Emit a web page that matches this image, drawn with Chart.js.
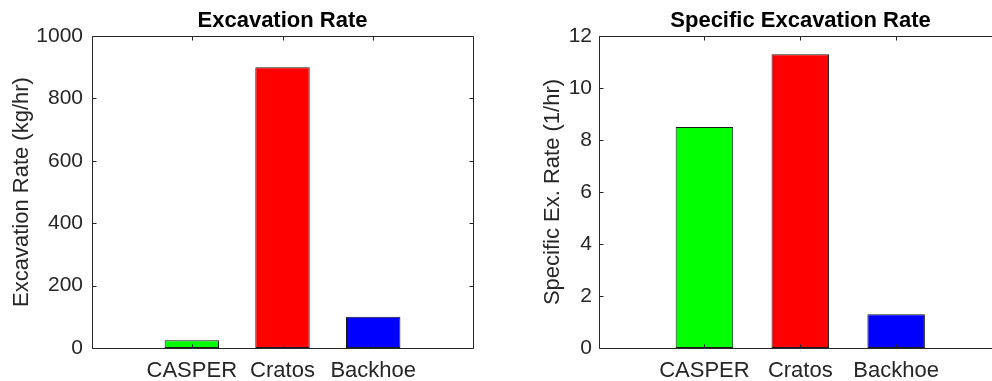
<!DOCTYPE html>
<html>
<head>
    <title>Excavation Rate</title>
    <script src="https://cdn.jsdelivr.net/npm/chart.js"></script>
    <style>
        html, body { margin: 0; padding: 0; background: #fff; overflow: hidden; width: 992px; height: 381px; }
        .panel { position: absolute; top: 0; width: 496px; height: 381px; overflow: hidden; }
    </style>
</head>
<body>
    <div class="panel" style="left:0px"><canvas id="rate" width="496" height="381"></canvas></div>
    <div class="panel" style="left:496px"><canvas id="specific" width="496" height="381"></canvas></div>
    <script>
        const categories = ['CASPER', 'Cratos', 'Backhoe'];
        const excavationRate = [25, 900, 100];      // kg/hr
        const specificRate = [8.5, 11.3, 1.3];      // 1/hr
        const barColors = ['#00ff00', '#ff0000', '#0000ff'];

        const FONT = '"Liberation Sans", Arial, Helvetica, sans-serif';
        const AXIS = '#262626';

        // MATLAB style box with inward tick marks
        const boxPlugin = {
            id: 'box',
            afterLayout(chart) {
                // the right panel's axes run past the window edge; keep its title centred on the full box
                const ext = chart.options.plugins.box.titleExtend || 0;
                if (ext && chart.titleBlock) {
                    chart.titleBlock.right += ext;
                    chart.titleBlock.width += ext;
                }
            },
            afterDatasetsDraw(chart) {
                const ctx = chart.ctx;
                const a = chart.chartArea;
                const showRight = chart.options.plugins.box.rightEdge !== false;
                const xs = chart.scales.x, ys = chart.scales.y;
                const L = Math.round(a.left) + 0.5, R = Math.round(a.right) + 0.5;
                const T = Math.round(a.top) + 0.5, B = Math.round(a.bottom) + 0.5;
                const far = showRight ? R : R + 20;
                ctx.save();
                ctx.strokeStyle = AXIS;
                ctx.lineWidth = 1;
                ctx.beginPath();
                ctx.moveTo(far, T); ctx.lineTo(L, T); ctx.lineTo(L, B); ctx.lineTo(far, B);
                if (showRight) { ctx.moveTo(R, T); ctx.lineTo(R, B); }
                const len = 4;
                ys.ticks.forEach(t => {
                    const y = Math.round(ys.getPixelForValue(t.value)) + 0.5;
                    ctx.moveTo(L, y); ctx.lineTo(L + len, y);
                    if (showRight) { ctx.moveTo(R, y); ctx.lineTo(R - len, y); }
                });
                xs.ticks.forEach(t => {
                    const x = Math.round(xs.getPixelForValue(t.value)) + 0.5;
                    ctx.moveTo(x, B); ctx.lineTo(x, B - len);
                    ctx.moveTo(x, T); ctx.lineTo(x, T + len);
                });
                ctx.stroke();
                ctx.restore();
            }
        };

        function makeChart(id, values, opts) {
            return new Chart(document.getElementById(id), {
                type: 'bar',
                data: {
                    datasets: [{
                        data: values.map((v, i) => ({ x: i + 1, y: v })),
                        backgroundColor: barColors,
                        borderColor: '#1a1a1a',
                        borderWidth: 1,
                        borderSkipped: false,
                        barPercentage: 0.6,
                        categoryPercentage: 1
                    }]
                },
                options: {
                    responsive: false,
                    animation: false,
                    layout: { padding: { left: 0, top: 0, bottom: 0, right: opts.padRight } },
                    plugins: {
                        legend: { display: false },
                        tooltip: { enabled: false },
                        box: { rightEdge: opts.rightEdge, titleExtend: opts.titleExtend },
                        title: {
                            display: true,
                            text: opts.title,
                            fullSize: false,
                            color: '#000',
                            font: { family: FONT, size: 22, weight: 'bold' },
                            padding: { top: 8, bottom: 1.6 }
                        }
                    },
                    scales: {
                        x: {
                            type: 'linear',
                            min: -0.1,
                            max: opts.xMax,
                            offset: false,
                            grid: { display: false, drawTicks: false },
                            border: { display: false },
                            afterBuildTicks: s => { s.ticks = categories.map((c, i) => ({ value: i + 1 })); },
                            afterFit: s => { s.height = 33; },
                            ticks: {
                                color: AXIS,
                                padding: 10,
                                maxRotation: 0,
                                autoSkip: false,
                                font: { family: FONT, size: 22 },
                                callback: v => categories[v - 1]
                            }
                        },
                        y: {
                            min: 0,
                            max: opts.max,
                            grid: { display: false, drawTicks: false },
                            border: { display: false },
                            afterFit: s => { s.width = opts.yWidth; },
                            ticks: {
                                stepSize: opts.step,
                                color: AXIS,
                                padding: opts.tickPad,
                                font: { family: FONT, size: 21 },
                                callback: v => String(v)
                            },
                            title: {
                                display: true,
                                text: opts.yTitle,
                                color: AXIS,
                                font: { family: FONT, size: 22 },
                                padding: { top: opts.titlePad, bottom: 0 }
                            }
                        }
                    }
                },
                plugins: [boxPlugin]
            });
        }

        makeChart('rate', excavationRate, {
            title: 'Excavation Rate',
            yTitle: 'Excavation Rate (kg/hr)',
            max: 1000, step: 200, xMax: 4.1,
            yWidth: 92, padRight: 23, tickPad: 9, titlePad: 9
        });
        // right panel: its box is wider than the window, so the window edge cuts it at x = 4.0
        makeChart('specific', specificRate, {
            title: 'Specific Excavation Rate',
            yTitle: 'Specific Ex. Rate (1/hr)',
            max: 12, step: 2, xMax: 4.0,
            yWidth: 103, padRight: 0, tickPad: 7, titlePad: 44,
            rightEdge: false, titleExtend: 10
        });
    </script>
</body>
</html>
